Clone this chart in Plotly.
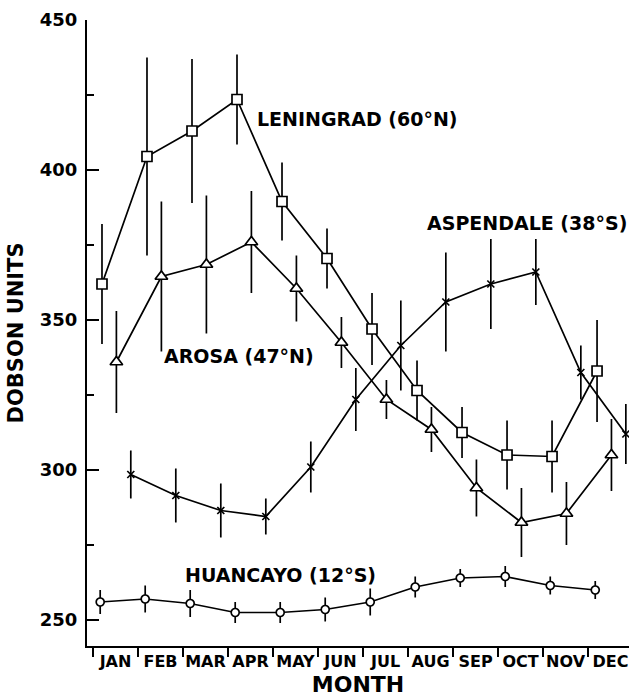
import plotly.graph_objects as go

months = ["JAN", "FEB", "MAR", "APR", "MAY", "JUN", "JUL", "AUG", "SEP", "OCT", "NOV", "DEC"]

leningrad = [362, 404.5, 413, 423.5, 389.5, 370.5, 347, 326.5, 312.5, 305, 304.5, 333]
leningrad_err = [20, 33, 24, 15, 13, 10, 12, 10, 8.5, 11.5, 12, 17]

arosa = [336, 364.5, 368.5, 376, 360.5, 342.5, 323.5, 313.5, 294, 282.5, 285.5, 305]
arosa_err = [17, 25, 23, 17, 11, 8.5, 6.5, 7.5, 9.5, 11.5, 10.5, 12]

aspendale = [298.5, 291.5, 286.5, 284.5, 301, 323.5, 341.5, 356, 362, 366, 332.5, 312]
aspendale_err = [8, 9, 9, 6, 8.5, 10.5, 15, 16.5, 15, 11, 9, 10]

huancayo = [256, 257, 255.5, 252.5, 252.5, 253.5, 256, 261, 264, 264.5, 261.5, 260]
huancayo_err = [4, 4.5, 4.5, 3.5, 3.5, 4, 4.5, 3.5, 3, 3.5, 3, 3]

y_ticks = [250, 300, 350, 400, 450]

# position within each month (fraction of month) where each station is plotted
series = [
    ("LENINGRAD (60°N)", leningrad, leningrad_err, 0.20, "square", 10),
    ("AROSA (47°N)", arosa, arosa_err, 0.52, "triangle-up", 11),
    ("ASPENDALE (38°S)", aspendale, aspendale_err, 0.84, "x-thin", 7),
    ("HUANCAYO (12°S)", huancayo, huancayo_err, 0.16, "circle", 8),
]

# label anchor positions (month units, Dobson units)
label_pos = {
    "LENINGRAD (60°N)": (3.60, 417),
    "ASPENDALE (38°S)": (7.38, 382.5),
    "AROSA (47°N)": (1.54, 338),
    "HUANCAYO (12°S)": (2.00, 265),
}

FONT = "DejaVu Sans"
fig = go.Figure()
for name, vals, errs, off, sym, size in series:
    xs = [i + off for i in range(len(vals))]
    fig.add_trace(go.Scatter(
        x=xs, y=vals, mode="lines+markers", name=name,
        line=dict(color="black", width=1.7),
        marker=dict(symbol=sym, size=size, color="white" if sym != "x-thin" else "black",
                    line=dict(color="black", width=1.7)),
        error_y=dict(type="data", array=errs, visible=True, color="black",
                     thickness=1.7, width=0),
        showlegend=False,
    ))

for name, (lx, ly) in label_pos.items():
    fig.add_annotation(x=lx, y=ly, xref="x", yref="y", text=name, showarrow=False,
                       xanchor="left", yanchor="middle",
                       font=dict(family=FONT, size=19, color="black", weight="bold"))

xr = [-0.133, 11.91]
yr = [241.33, 450]
tickfont = dict(family=FONT, size=18, color="black", weight="bold")

fig.update_layout(
    width=629, height=698,
    margin=dict(l=87, r=0, t=20, b=52, autoexpand=False),
    plot_bgcolor="white", paper_bgcolor="white",
    xaxis=dict(
        range=xr, showgrid=False, zeroline=False, automargin=False,
        showline=True, linecolor="black", linewidth=2,
        tickmode="array", tickvals=[i + 0.5 for i in range(12)], ticktext=months,
        ticks="", ticklen=0,
        tickfont=dict(family=FONT, size=16, color="black", weight="bold"),
        minor=dict(tickmode="linear", tick0=0, dtick=1, ticks="outside",
                   ticklen=9, tickwidth=1.6, tickcolor="black", showgrid=False),
        title=dict(text="MONTH", standoff=6,
                   font=dict(family=FONT, size=22, color="black", weight="bold")),
    ),
    xaxis2=dict(
        range=xr, overlaying="x", side="bottom", anchor="y", automargin=False,
        showgrid=False, zeroline=False, showline=False,
        tickmode="array", tickvals=list(range(12)), ticks="inside",
        ticklen=10, tickwidth=1.6, tickcolor="black", showticklabels=False,
    ),
    xaxis3=dict(
        range=xr, overlaying="x", side="top", anchor="y", automargin=False,
        showgrid=False, zeroline=False, showline=True, linecolor="black", linewidth=2,
        tickmode="array", tickvals=list(range(12)), ticks="inside",
        ticklen=8, tickwidth=1.6, tickcolor="black", showticklabels=False,
    ),
    yaxis=dict(
        range=yr, showgrid=False, zeroline=False, automargin=False,
        showline=True, linecolor="black", linewidth=2,
        tickmode="array", tickvals=y_ticks, ticks="inside", ticklen=12,
        tickwidth=1.6, tickcolor="black", tickfont=tickfont, ticklabelstandoff=4,
        minor=dict(tickmode="linear", tick0=250, dtick=25, ticks="inside",
                   ticklen=7, tickwidth=1.6, tickcolor="black", showgrid=False),
        title=dict(text="DOBSON UNITS", standoff=10,
                   font=dict(family=FONT, size=21, color="black", weight="bold")),
    ),
    yaxis2=dict(
        range=yr, overlaying="y", side="right", anchor="x", automargin=False,
        showgrid=False, zeroline=False, showline=False,
        tickmode="array", tickvals=y_ticks, ticks="inside", ticklen=10,
        tickwidth=1.6, tickcolor="black", showticklabels=False,
        minor=dict(tickmode="linear", tick0=250, dtick=25, ticks="inside",
                   ticklen=6, tickwidth=1.6, tickcolor="black", showgrid=False),
    ),
)

# remove the page's default body margin so the figure fills the window exactly
fig.write_html("out.html",
               config={"displayModeBar": False},
               post_script="document.body.style.margin='0';document.body.style.overflow='hidden';")
